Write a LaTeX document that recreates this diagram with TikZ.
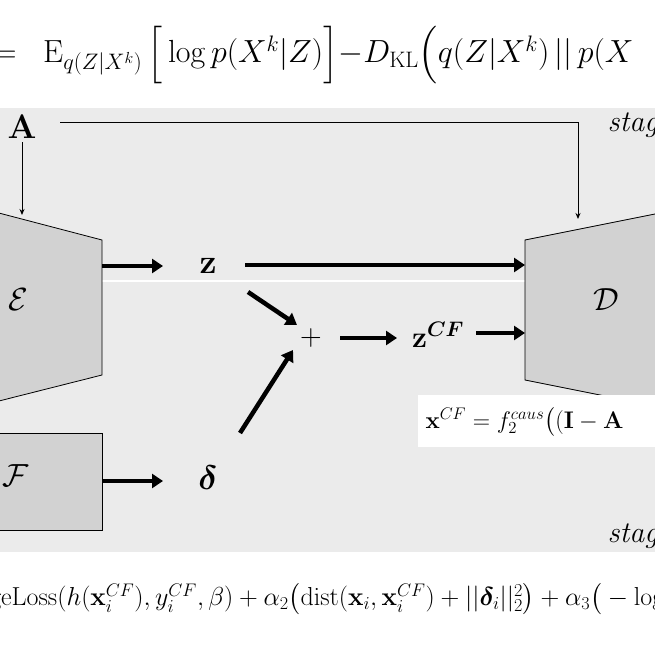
\documentclass[tikz,border=0pt]{standalone}
\usepackage{fix-cm}
\usepackage{amsmath,amssymb,bm}
\usetikzlibrary{arrows.meta}
\begin{document}
\begin{tikzpicture}[x=1pt,y=-1pt,
 fat/.style={line width=4.5pt,-{Triangle[length=11pt,width=14pt]}},
 thin/.style={line width=1pt,-{Stealth[length=6pt,width=5pt]}},
 blk/.style={fill=gray!35,draw=black,line width=0.8pt},
 lab/.style={font=\fontsize{34}{40}\selectfont}]
\useasboundingbox (0,0) rectangle (655,655);
\clip (0,0) rectangle (655,655);
\fill[white] (0,0) rectangle (655,655);
\fill[black!8] (0,108) rectangle (655,552);
\draw[white,line width=1.5pt] (102,281) -- (525,281);
% blocks
\draw[blk] (-5,212) -- (102,240) -- (102,375) -- (-5,402);
\draw[blk] (660,213) -- (525,240) -- (525,380) -- (660,407);
\draw[blk] (-5,433) rectangle (102,530);
\node (E) at (18,300) {\fontsize{32}{36}\selectfont$\mathcal{E}$};
\node (D) at (606,300) {\fontsize{32}{36}\selectfont$\mathcal{D}$};
\node (F) at (16,476) {\fontsize{32}{36}\selectfont$\mathcal{F}$};
% labels
\node[lab] (A) at (22,127) {$\mathbf{A}$};
\node[lab] (z) at (208,266) {$\mathbf{z}$};
\node[font=\fontsize{30}{36}\selectfont] (plus) at (311,338) {$+$};
\node[font=\fontsize{30}{36}\selectfont] (zcf) at (438,335) {$\mathbf{z}^{\bm{CF}}$};
\node[lab] (dl) at (208,478) {$\bm{\delta}$};
\node[font=\fontsize{30}{36}\selectfont\itshape,anchor=west] (s1) at (604,125) {stage};
\node[font=\fontsize{30}{36}\selectfont\itshape,anchor=west] (s2) at (604,536) {stage};
% arrows
\coordinate (a1) at (22,215);
\draw[thin] (A) -- (a1);
\coordinate (c1) at (60,123); \coordinate (c2) at (578,123); \coordinate (c3) at (578,219);
\draw[thin] (c1) -- (c2) -- (c3);
\draw[fat] (102,266) -- (163,266);
\draw[fat] (245,265) -- (525,265);
\draw[fat] (248,292) -- (297,325);
\draw[fat] (340,338) -- (397,338);
\draw[fat] (476,333) -- (525,333);
\draw[fat] (240,433) -- (293,350);
\draw[fat] (102,481) -- (163,481);
% formula box
\fill[white] (418,395) rectangle (660,447);
\node[anchor=west,font=\fontsize{24}{28}\selectfont] (fx) at (422,422) {$\mathbf{x}^{CF}=f_2^{caus}\big((\mathbf{I}-\mathbf{A}$};
% formulas
\node[anchor=west,font=\fontsize{32}{40}\selectfont] (top) at (-10,55) {$=\;\;\mathrm{E}_{q(Z|X^k)}\,\Big[\log p(X^k|Z)\Big]{-}D_{\mathrm{KL}}\Big(q(Z|X^k)\,||\,p(X$};
\node[anchor=west,font=\fontsize{26}{30}\selectfont] (bot) at (-52,599) {$\mathrm{HingeLoss}(h(\mathbf{x}_i^{CF}),y_i^{CF},\beta)+\alpha_2\big(\mathrm{dist}(\mathbf{x}_i,\mathbf{x}_i^{CF})+||\bm{\delta}_i||_2^2\big)+\alpha_3\big(-\log$};
\end{tikzpicture}
\end{document}
